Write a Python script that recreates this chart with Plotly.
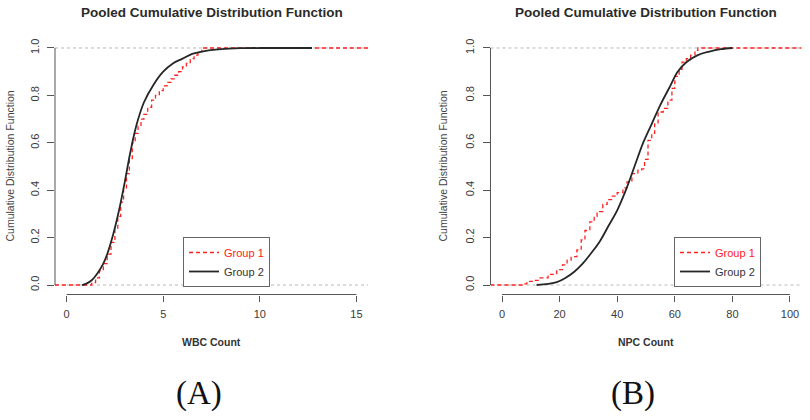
import plotly.graph_objects as go

# ---------------- data ----------------
wbc_g2_x = [0.8, 1.0, 1.3, 1.6, 1.9, 2.1, 2.4, 2.7, 3.0, 3.3, 3.6, 4.0, 4.5, 5.0, 5.5, 6.0, 6.5, 7.0, 8.0, 9.0, 10.5, 12.7]
wbc_g2_y = [0.0, 0.005, 0.02, 0.05, 0.09, 0.13, 0.21, 0.31, 0.43, 0.56, 0.67, 0.77, 0.845, 0.9, 0.935, 0.955, 0.975, 0.985, 0.995, 0.999, 1.0, 1.0]

wbc_g1_x = [1.3, 1.5, 1.7, 1.9, 2.1, 2.3, 2.5, 2.65, 2.8, 2.95, 3.1, 3.25, 3.4, 3.55, 3.7, 3.85, 4.0, 4.2, 4.4, 4.6,
            4.8, 5.0, 5.2, 5.4, 5.6, 5.8, 6.0, 6.2, 6.4, 6.6, 6.8, 7.0]
wbc_g1_y = [0.01, 0.03, 0.06, 0.09, 0.13, 0.18, 0.24, 0.29, 0.35, 0.41, 0.47, 0.53, 0.6, 0.64, 0.67, 0.70, 0.72, 0.75, 0.78, 0.80,
            0.82, 0.84, 0.855, 0.87, 0.885, 0.90, 0.92, 0.935, 0.955, 0.97, 0.985, 1.0]

npc_g2_x = [12, 16, 19, 22, 25, 28, 31, 34, 37, 40, 43, 46, 49, 52, 55, 58, 61, 64, 68, 72, 76, 80]
npc_g2_y = [0.0, 0.005, 0.012, 0.03, 0.055, 0.09, 0.135, 0.185, 0.25, 0.315, 0.4, 0.5, 0.6, 0.68, 0.76, 0.83, 0.9, 0.94, 0.97, 0.985, 0.995, 1.0]

npc_g1_x = [7.4, 8.6, 11, 13.2, 16, 19, 21, 22.6, 24, 26, 27.5, 28.8, 30.5, 32, 33, 35, 36.5, 38, 40, 42, 43.4, 45.1, 47.2,
            48.5, 49.5, 50.7, 52, 53, 54.2, 56, 57.6, 59, 60, 61.5, 62.5, 64, 65.5, 67, 68]
npc_g1_y = [0.005, 0.015, 0.02, 0.03, 0.045, 0.065, 0.085, 0.105, 0.12, 0.148, 0.19, 0.23, 0.266, 0.29, 0.31, 0.34, 0.36, 0.375,
            0.39, 0.41, 0.435, 0.47, 0.485, 0.49, 0.53, 0.61, 0.64, 0.68, 0.73, 0.745, 0.78, 0.83, 0.88, 0.91, 0.94, 0.955, 0.97, 0.99, 1.0]

wbc_ticks = [0, 5, 10, 15]
npc_ticks = [0, 20, 40, 60, 80, 100]
y_ticks = [0.0, 0.2, 0.4, 0.6, 0.8, 1.0]
y_ticklabels = ["0.0", "0.2", "0.4", "0.6", "0.8", "1.0"]

title_text = "Pooled Cumulative Distribution Function"
ytitle_text = "Cumulative Distribution Function"
group_names = ["Group 1", "Group 2"]

# ---------------- styling ----------------
W, H = 810, 420
wbc_range = [-0.6, 15.6]
npc_range = [-4, 104]
y_range = [-0.04, 1.04]
RED = "#ff2020"
BLACK = "#262626"
AX = "#555555"
TXT = "#3a3a3a"
SANS = "Liberation Sans, Arial, sans-serif"
SERIF = "Liberation Serif, Times New Roman, serif"

dom1 = [55 / W, 368 / W]
dom2 = [490.5 / W, 801.5 / W]
ydom = [1 - 294.5 / H, 1 - 38.5 / H]

fig = go.Figure()

def add_panel(g1x, g1y, g2x, g2y, xr, xa, ya, legend):
    # red (group 1) step ECDF extended to the plot edges
    rx = [xr[0]] + g1x + [xr[1]]
    ry = [0.0] + g1y + [1.0]
    fig.add_trace(go.Scatter(x=rx, y=ry, mode="lines", line_shape="hv",
                             line=dict(color=RED, width=1.3, dash="4px,3px"),
                             name="<span style='color:%s'>%s</span>" % (RED, group_names[0]),
                             xaxis=xa, yaxis=ya, legend=legend))
    fig.add_trace(go.Scatter(x=g2x, y=g2y, mode="lines", line_shape="spline",
                             line=dict(color=BLACK, width=1.8),
                             name="<span style='color:#333'>%s</span>" % group_names[1],
                             xaxis=xa, yaxis=ya, legend=legend))

add_panel(wbc_g1_x, wbc_g1_y, wbc_g2_x, wbc_g2_y, wbc_range, "x", "y", "legend")
add_panel(npc_g1_x, npc_g1_y, npc_g2_x, npc_g2_y, npc_range, "x2", "y2", "legend2")

xcommon = dict(showgrid=False, zeroline=False, showline=False, ticks="outside", ticklen=6,
               tickcolor=AX, tickwidth=1, ticklabelstandoff=3,
               tickfont=dict(family=SANS, size=11, color=TXT))
ycommon = dict(showgrid=False, zeroline=False, showline=False, ticks="outside", ticklen=7,
               tickcolor=AX, tickwidth=1, range=y_range, tickvals=y_ticks, ticktext=y_ticklabels,
               ticklabelstandoff=4, tickangle=-90, tickfont=dict(family=SANS, size=11, color=TXT), domain=ydom)

fig.update_layout(
    width=W, height=H, margin=dict(l=0, r=0, t=0, b=0),
    paper_bgcolor="white", plot_bgcolor="white",
    xaxis=dict(domain=dom1, range=wbc_range, tickvals=wbc_ticks, anchor="y", **xcommon),
    yaxis=dict(anchor="x", **ycommon),
    xaxis2=dict(domain=dom2, range=npc_range, tickvals=npc_ticks, anchor="y2", **xcommon),
    yaxis2=dict(anchor="x2", **ycommon),
    legend=dict(x=183 / W, y=1 - 237 / H, xanchor="left", yanchor="top",
                bordercolor="#666", borderwidth=1, bgcolor="white",
                font=dict(family=SANS, size=11, color="#333"), tracegroupgap=0,
                itemwidth=30),
    legend2=dict(x=674 / W, y=1 - 237 / H, xanchor="left", yanchor="top",
                 bordercolor="#666", borderwidth=1, bgcolor="white",
                 font=dict(family=SANS, size=11, color="#333"), tracegroupgap=0,
                 itemwidth=30),
    showlegend=True,
)

shapes = []
for xa, ya, xr, ticks in [("x", "y", wbc_range, wbc_ticks), ("x2", "y2", npc_range, npc_ticks)]:
    dom = xa + " domain"
    ydm = ya + " domain"
    # dashed reference lines at 0 and 1
    for yv in (0, 1):
        shapes.append(dict(type="line", xref=dom, yref=ya, x0=0, x1=1, y0=yv, y1=yv,
                           line=dict(color="#b8b8b8", width=1, dash="3px,3px"), layer="below"))
    # R style axis lines spanning only the tick range
    shapes.append(dict(type="line", xref=xa, yref=ydm, x0=ticks[0], x1=ticks[-1], y0=0, y1=0,
                       line=dict(color=AX, width=1)))
    shapes.append(dict(type="line", xref=dom, yref=ya, x0=0, x1=0, y0=y_ticks[0], y1=y_ticks[-1],
                       line=dict(color=AX, width=1)))
fig.update_layout(shapes=shapes)

annotations = []
for dom, xlab, panel, ytx in [(dom1, "WBC Count", "(A)", 10), (dom2, "NPC Count", "(B)", 443)]:
    cx = (dom[0] + dom[1]) / 2
    common = dict(xref="paper", yref="paper", showarrow=False, xanchor="center", yanchor="middle")
    annotations.append(dict(text="<b>%s</b>" % title_text, x=cx, y=1 - 12 / H,
                            font=dict(family=SANS, size=13.5, color="#2a2a2a"), **common))
    annotations.append(dict(text="<b>%s</b>" % xlab, x=cx, y=1 - 342 / H,
                            font=dict(family=SANS, size=10.5, color="#333"), **common))
    annotations.append(dict(text=ytitle_text, x=ytx / W, y=(ydom[0] + ydom[1]) / 2, textangle=-90,
                            font=dict(family=SANS, size=10.5, color="#444"), **common))
    annotations.append(dict(text=panel, x=cx - 13 / W, y=1 - 393 / H,
                            font=dict(family=SERIF, size=33, color="#111"), **common))
fig.update_layout(annotations=annotations)

fig.write_html("out.html")
